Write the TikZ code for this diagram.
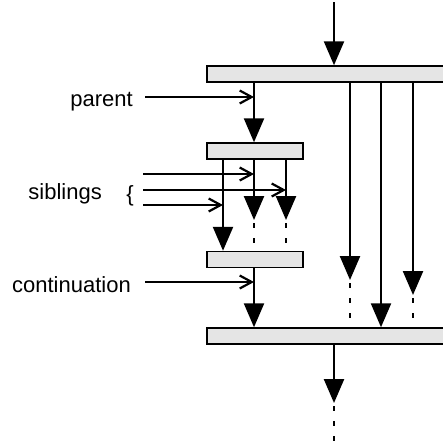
\documentclass[tikz,border=0pt]{standalone}
\usepackage{fontspec}
\setmainfont{Liberation Sans}
\usetikzlibrary{arrows.meta}

\begin{document}
\begin{tikzpicture}[x=1pt,y=-1pt]
	\tikzstyle{bar}=[draw, fill=black!10, line width=1.5pt, inner sep=0pt, minimum height=16pt]
	\tikzstyle{line}=[-{Triangle[length=24pt,width=20pt]}, line width=2.4pt]
	\tikzstyle{feed}=[-{Straight Barb[length=12pt,width=13pt]}, line width=2.2pt]
	\tikzstyle{dots}=[line width=2.6pt, dash pattern=on 5pt off 10pt, dash phase=12pt]
	\tikzstyle{txt}=[anchor=east, inner sep=0pt, font=\fontsize{22}{26}\selectfont]
	\useasboundingbox (0,0) rectangle (443,440);

	% the four bars
	\node[bar, minimum width=240pt] (join) at (327,74) {};
	\node[bar, minimum width=96pt] (fork) at (255,151) {};
	\node[bar, minimum width=96pt] (sync) at (255,259.5) {};
	\node[bar, minimum width=240pt] (exit) at (327,336) {};

	% labels on the left
	\node[txt] (parent) at (133,101.5) {parent};
	\node[txt] (sibs) at (102,194) {siblings};
	\node[txt] (brace) at (134,196) {\{};
	\node[txt] (cont) at (131,285) {continuation};

	% ends of the connectors
	\coordinate (top) at (334,2);
	\coordinate (p0) at (145,97);
	\coordinate (stem) at (254,97);
	\coordinate (s1) at (143,174);
	\coordinate (s2) at (143,190);
	\coordinate (s3) at (143,205);
	\coordinate (f1) at (223,205);
	\coordinate (f2) at (254,220);
	\coordinate (f3) at (286,220);
	\coordinate (c0) at (145,282);
	\coordinate (r1) at (350,280);
	\coordinate (r2) at (381,328);
	\coordinate (r3) at (413,295);
	\coordinate (out) at (334,403);

	% into the top bar and down to the fork
	\draw[line] (top) -- (top |- join.north);
	\draw[line] (stem |- join.south) -- (stem |- fork.north);
	\draw[feed] (p0) -- (stem);

	% long lines from the top bar
	\draw[line] (r1 |- join.south) -- (r1);
	\draw[dots] (r1) -- (r1 |- exit.north);
	\draw[line] (r2 |- join.south) -- (r2 |- exit.north);
	\draw[line] (r3 |- join.south) -- (r3);
	\draw[dots] (r3) -- (r3 |- exit.north);

	% siblings under the fork
	\draw[line] (f1 |- fork.south) -- (f1 |- sync.north);
	\draw[line] (f2 |- fork.south) -- (f2);
	\draw[dots] (f2) -- (f2 |- sync.north);
	\draw[line] (f3 |- fork.south) -- (f3);
	\draw[dots] (f3) -- (f3 |- sync.north);
	\draw[feed] (s1) -- (s1 -| f2);
	\draw[feed] (s2) -- (s2 -| f3);
	\draw[feed] (s3) -- (f1);

	% continuation
	\draw[line] (stem |- sync.south) -- (stem |- exit.north);
	\draw[feed] (c0) -- (c0 -| stem);

	% out of the bottom bar
	\draw[line] (out |- exit.south) -- (out);
	\draw[dots] (out) -- (334,442);
\end{tikzpicture}
\end{document}
